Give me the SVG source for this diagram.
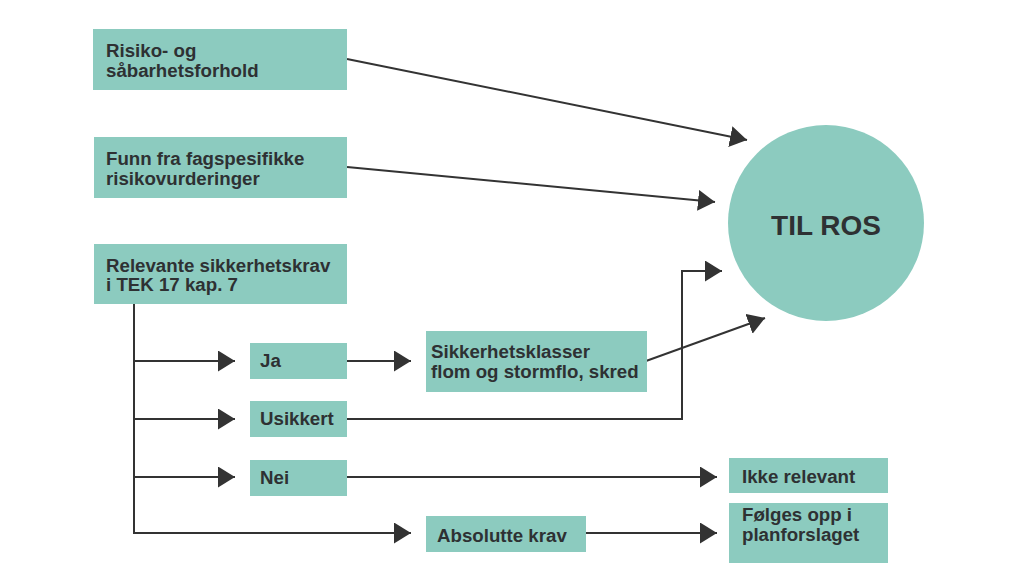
<svg xmlns="http://www.w3.org/2000/svg" width="1033" height="588" viewBox="0 0 1033 588">
<style>
.box{fill:#8ccbbf}
.t{font-family:"Liberation Sans",Arial,sans-serif;font-weight:700;font-size:18.7px;fill:#2e3133}
.big{font-family:"Liberation Sans",Arial,sans-serif;font-weight:700;font-size:28px;fill:#2e3133}
.ln{fill:none;stroke:#333333;stroke-width:2}
.arr{marker-end:url(#ah)}
</style>
<defs>
<marker id="ah" markerUnits="userSpaceOnUse" markerWidth="18" markerHeight="22" refX="17" refY="10.5" orient="auto">
<path d="M0,0 L17,10.5 L0,21 z" fill="#333333"/>
</marker>
</defs>
<rect width="1033" height="588" fill="#ffffff"/>
<g id="connectors">
<line class="ln arr" x1="347" y1="59" x2="747" y2="140"/>
<line class="ln arr" x1="347" y1="167" x2="715" y2="202"/>
<line class="ln" x1="134" y1="304" x2="134" y2="534"/>
<line class="ln arr" x1="133" y1="533" x2="411" y2="533"/>
<line class="ln arr" x1="134" y1="361" x2="235" y2="361"/>
<line class="ln arr" x1="134" y1="419" x2="235" y2="419"/>
<line class="ln arr" x1="134" y1="477" x2="235" y2="477"/>
<line class="ln arr" x1="347" y1="361" x2="411" y2="361"/>
<polyline class="ln arr" points="347,419 682,419 682,271 722,271"/>
<line class="ln arr" x1="646" y1="361" x2="765" y2="318"/>
<line class="ln arr" x1="347" y1="477" x2="717" y2="477"/>
<line class="ln arr" x1="586" y1="533" x2="717" y2="533"/>
</g>
<g id="risiko">
<rect class="box" x="93" y="29" width="254" height="61"/>
<text class="t" x="106" y="57">Risiko- og</text>
<text class="t" x="106" y="77">såbarhetsforhold</text>
</g>
<g id="funn">
<rect class="box" x="94" y="137" width="253" height="61"/>
<text class="t" x="106" y="165">Funn fra fagspesifikke</text>
<text class="t" x="106" y="185">risikovurderinger</text>
</g>
<g id="relevante">
<rect class="box" x="94" y="244" width="253" height="60"/>
<text class="t" x="106" y="272">Relevante sikkerhetskrav</text>
<text class="t" x="106" y="291">i TEK 17 kap. 7</text>
</g>
<g id="ja">
<rect class="box" x="250" y="343" width="97" height="36"/>
<text class="t" x="260" y="367">Ja</text>
</g>
<g id="usikkert">
<rect class="box" x="250" y="401" width="97" height="36"/>
<text class="t" x="260" y="425">Usikkert</text>
</g>
<g id="nei">
<rect class="box" x="250" y="460" width="97" height="36"/>
<text class="t" x="260" y="484">Nei</text>
</g>
<g id="sikkerhetsklasser">
<rect class="box" x="426" y="331" width="221" height="61"/>
<text class="t" x="431" y="358">Sikkerhetsklasser</text>
<text class="t" x="431" y="378">flom og stormflo, skred</text>
</g>
<g id="absolutte">
<rect class="box" x="426" y="516" width="160" height="36"/>
<text class="t" x="437" y="542">Absolutte krav</text>
</g>
<g id="ikke">
<rect class="box" x="729" y="458" width="159" height="35"/>
<text class="t" x="742" y="483">Ikke relevant</text>
</g>
<g id="folges">
<rect class="box" x="729" y="503" width="159" height="60"/>
<text class="t" x="742" y="521">Følges opp i</text>
<text class="t" x="742" y="541">planforslaget</text>
</g>
<g id="tilros">
<circle class="box" cx="826" cy="223" r="98"/>
<text class="big" x="826" y="235" text-anchor="middle">TIL ROS</text>
</g>
</svg>
